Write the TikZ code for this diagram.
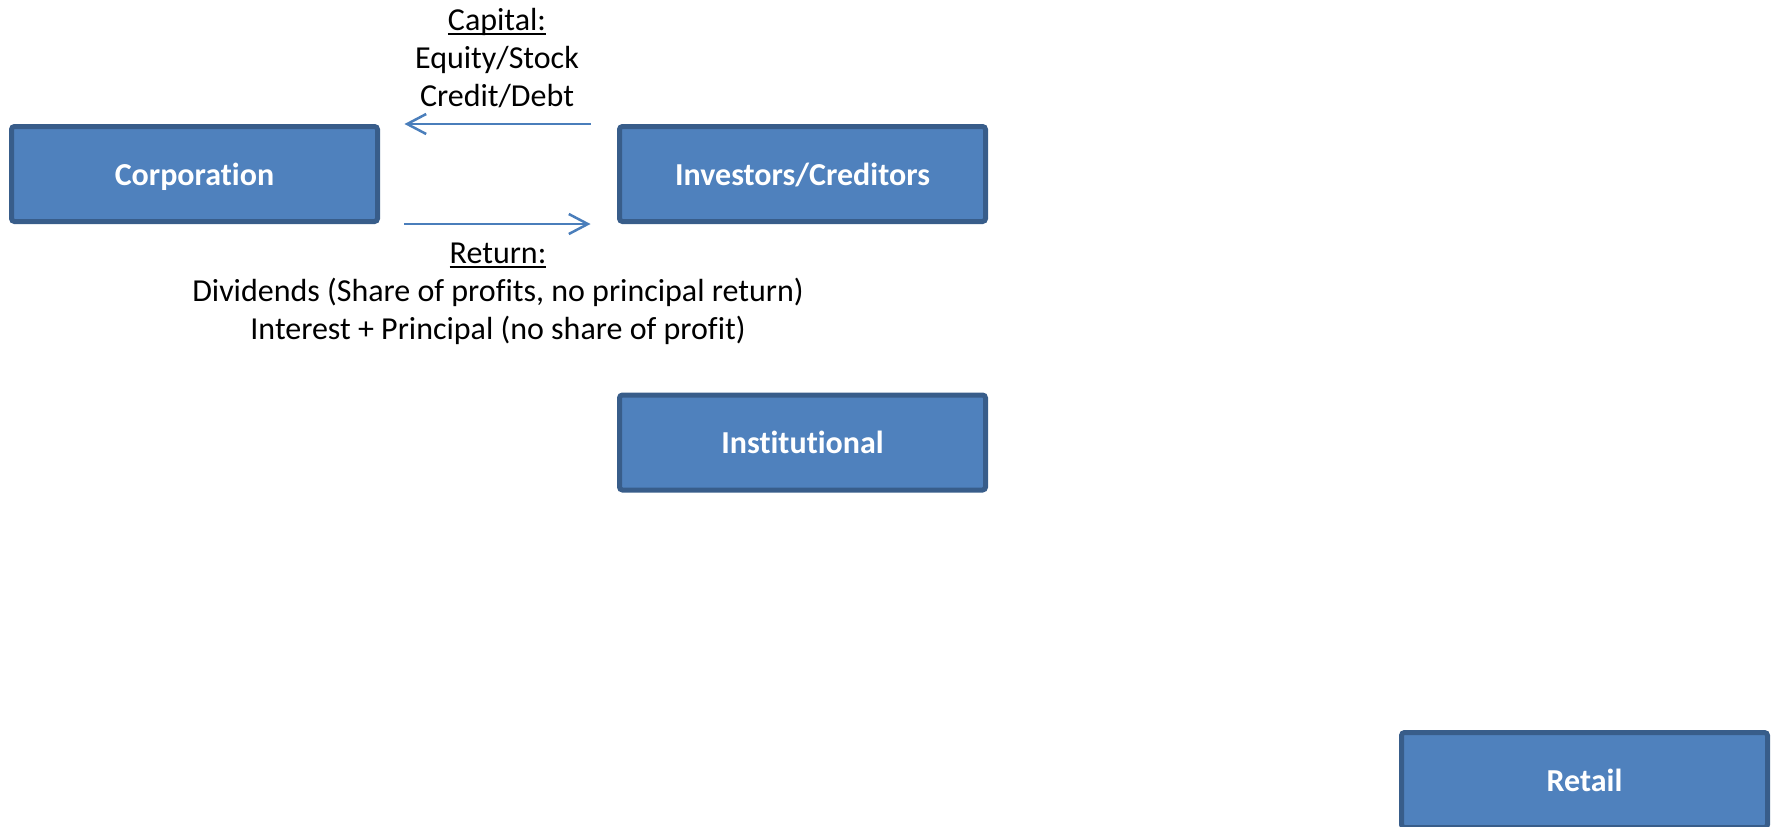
\documentclass[tikz,border=0pt]{standalone}
\usepackage{fontspec}
\setmainfont{Carlito}[Ligatures=NoCommon]
\usetikzlibrary{arrows.meta}
\definecolor{boxfill}{HTML}{4F81BD}
\definecolor{boxline}{HTML}{385D8A}
\definecolor{arrowc}{HTML}{4A7EBB}
\newcommand\myul[1]{\setbox0\hbox{#1}\rlap{\rule[-2.7pt]{\wd0}{1.3pt}}\box0}
\tikzset{
  entity/.style={draw=boxline, fill=boxfill, line width=2.5pt, rounded corners=1.5pt,
    minimum width=183pt, minimum height=47.5pt, inner sep=0pt,
    text height=11pt, text depth=0pt,
    text=white, font=\fontsize{16}{19}\selectfont\bfseries},
  flow/.style={draw=arrowc, line width=1.25pt, -{Straight Barb[length=9.5pt,width=10pt,line width=1.25pt]}},
  label/.style={inner sep=0pt, align=center, font=\fontsize{16}{19}\selectfont}
}
\begin{document}
\begin{tikzpicture}[x=0.5pt,y=-0.5pt]
\useasboundingbox (0,0) rectangle (1775,826);
\node[entity] (corp) at (194.5,174) {Corporation};
\node[entity] (inv) at (802.5,174) {Investors/Creditors};
\node[entity] (inst) at (802.5,442.5) {Institutional};
\node[entity] (retail) at (1584.5,780) {Retail};
\draw[flow] ([xshift=-13.25pt]inv.north west) -- ([xshift=12.25pt]corp.north east);
\draw[flow] ([xshift=12pt]corp.south east) -- ([xshift=-13.25pt]inv.south west);
\node[label, anchor=base] (cap) at (497,106) {\myul{Capital:}\\Equity/Stock\\Credit/Debt};
\node[label, anchor=base] (ret) at (498,339) {\myul{Return:}\\Dividends (Share of profits, no principal return)\\Interest + Principal (no share of profit)};
\end{tikzpicture}
\end{document}
